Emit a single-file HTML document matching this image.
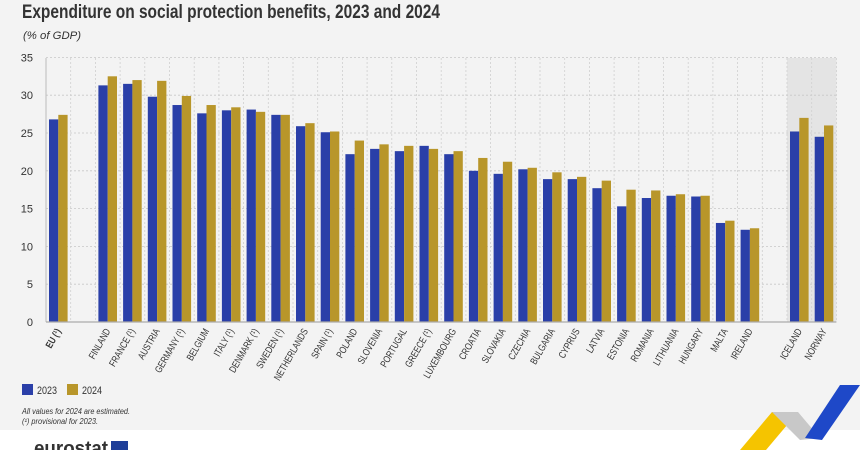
<!DOCTYPE html>
<html><head><meta charset="utf-8"><style>
html,body{margin:0;padding:0;width:860px;height:450px;overflow:hidden;background:#fff}
svg{display:block}
text{font-family:"Liberation Sans Narrow","Liberation Sans",sans-serif;fill:#333}
</style></head><body>
<svg width="860" height="450" viewBox="0 0 860 450">
<rect x="0" y="0" width="860" height="430" fill="#f3f3f3"/>
<text x="22" y="18" font-size="19" font-weight="bold" fill="#333" textLength="418" lengthAdjust="spacingAndGlyphs">Expenditure on social protection benefits, 2023 and 2024</text>
<text x="23" y="39" font-size="11" font-style="italic" fill="#444" textLength="58" lengthAdjust="spacingAndGlyphs">(% of GDP)</text>
<g id="chart"></g>
<rect x="22" y="384" width="11" height="11" fill="#2a3fa8"/>
<text x="37" y="394" font-size="11" textLength="20" lengthAdjust="spacingAndGlyphs">2023</text>
<rect x="67" y="384" width="11" height="11" fill="#b8962a"/>
<text x="82" y="394" font-size="11" textLength="20" lengthAdjust="spacingAndGlyphs">2024</text>
<text x="22" y="414" font-size="8" font-style="italic" textLength="108" lengthAdjust="spacingAndGlyphs">All values for 2024 are estimated.</text>
<text x="22" y="424" font-size="8" font-style="italic" textLength="76" lengthAdjust="spacingAndGlyphs">(¹) provisional for 2023.</text>
<text x="34" y="455" font-size="20" font-weight="bold" fill="#777" textLength="74" lengthAdjust="spacingAndGlyphs">eurostat</text>
<rect x="111" y="441" width="17" height="12" fill="#1f3f99"/>
<polygon points="740,450 772,412 798,412 766,450" fill="#f5c400"/>
<polygon points="772,412 798,412 820,438 800,440" fill="#c8c8c8"/>
<polygon points="805,438 840,385 860,385 822,440" fill="#1e48c8"/>
</svg>
<script>
const d=[["EU (¹)",26.8,27.4,1],["",null,null],["FINLAND",31.3,32.5],["FRANCE (¹)",31.5,32.0],["AUSTRIA",29.8,31.9],["GERMANY (¹)",28.7,29.9],["BELGIUM",27.6,28.7],["ITALY (¹)",28.0,28.4],["DENMARK (¹)",28.1,27.8],["SWEDEN (¹)",27.4,27.4],["NETHERLANDS",25.9,26.3],["SPAIN (¹)",25.1,25.2],["POLAND",22.2,24.0],["SLOVENIA",22.9,23.5],["PORTUGAL",22.6,23.3],["GREECE (¹)",23.3,22.9],["LUXEMBOURG",22.2,22.6],["CROATIA",20.0,21.7],["SLOVAKIA",19.6,21.2],["CZECHIA",20.2,20.4],["BULGARIA",18.9,19.8],["CYPRUS",18.9,19.2],["LATVIA",17.7,18.7],["ESTONIA",15.3,17.5],["ROMANIA",16.4,17.4],["LITHUANIA",16.7,16.9],["HUNGARY",16.6,16.7],["MALTA",13.1,13.4],["IRELAND",12.2,12.4],["",null,null],["ICELAND",25.2,27.0],["NORWAY",24.5,26.0]];
const x0=46,w=24.7,y0=322,k=7.56;
let s='';
s+=`<rect x="${x0+30*w}" y="58" width="${2*w}" height="${y0-58}" fill="#e4e4e4"/>`;
for(let v=5;v<=35;v+=5){const y=y0-v*k;s+=`<line x1="${x0}" x2="${x0+32*w}" y1="${y}" y2="${y}" stroke="#c8c8c8" stroke-dasharray="2,2" stroke-width="0.8"/>`;}
for(let v=0;v<=35;v+=5){s+=`<text x="33" y="${y0-v*k+4}" font-size="11" text-anchor="end">${v}</text>`;}
for(let i=1;i<=32;i++){const x=x0+i*w;s+=`<line x1="${x}" x2="${x}" y1="58" y2="${y0}" stroke="#cfcfcf" stroke-dasharray="2,2" stroke-width="0.8"/>`;}
d.forEach((r,i)=>{const sx=x0+i*w;if(r[1]!=null){
s+=`<rect x="${sx+3}" y="${y0-r[1]*k}" width="9.3" height="${r[1]*k}" fill="#2a3fa8"/>`;
s+=`<rect x="${sx+12.3}" y="${y0-r[2]*k}" width="9.3" height="${r[2]*k}" fill="#b8962a"/>`;
const cx=sx+w/2+3;s+=`<text transform="translate(${cx},331) rotate(-60) scale(0.78,1)" font-size="10" text-anchor="end" ${r[3]?'font-weight="bold"':''}>${r[0]}</text>`;}});
s+=`<line x1="${x0}" x2="${x0}" y1="58" y2="${y0}" stroke="#bbb"/>`;
s+=`<line x1="${x0}" x2="${x0+32*w}" y1="${y0}" y2="${y0}" stroke="#aaa" stroke-width="1.2"/>`;
document.getElementById('chart').innerHTML=s;
</script>
</body></html>
